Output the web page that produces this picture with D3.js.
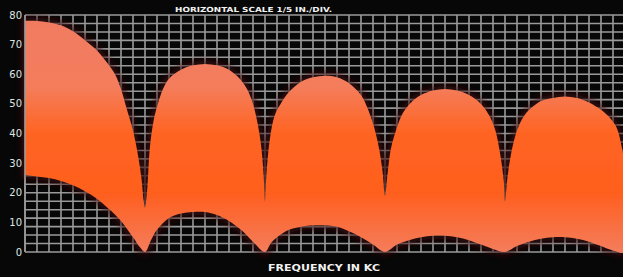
<!DOCTYPE html>
<html>
<head>
<meta charset="utf-8">
<script src="https://cdn.jsdelivr.net/npm/d3@7/dist/d3.min.js"></script>
<style>
    body { margin: 0; background: #070707; }
    svg { display: block; }
</style>
</head>
<body>
<svg id="chart"></svg>
<script>
// upper envelope of the response (x in divisions, level in db)
let upperDiv = [0, 1, 2, 3, 4, 5, 6, 7, 7.5, 8, 8.5, 9, 9.4, 9.7, 9.9, 10,
    10.2, 10.4, 10.7, 11, 11.5, 12, 13, 14, 15, 16, 17, 18, 18.5, 19, 19.4, 19.7, 19.9, 20,
    20.1, 20.4, 20.8, 21.3, 22, 23, 24, 25, 26, 27, 28, 28.6, 29.1, 29.5, 29.8, 30,
    30.2, 30.5, 31, 31.5, 32.3, 33, 34, 35, 36, 37, 38, 38.7, 39.2, 39.6, 39.9, 40,
    40.2, 40.5, 41, 41.6, 42.3, 43, 44, 45, 46, 47, 48, 48.8, 49.3, 49.7, 50];
let upperLevel = [78, 78, 77.5, 76.5, 74.5, 71.5, 68, 63, 60, 55, 48, 41, 33, 25, 17, 15,
    22, 35, 44, 49, 55, 58.5, 61.5, 63, 63.5, 63, 61.5, 58, 55, 50, 43, 35, 25, 17,
    25, 38, 46, 50, 54, 57.5, 59, 59.5, 59, 57, 53, 48, 42, 35, 27, 19,
    26, 35, 42, 47, 51, 53, 54.5, 55, 54.5, 53, 50, 46, 41, 33, 24, 17,
    25, 33, 41, 46, 49, 51, 52, 52.5, 52, 50.5, 48, 45, 42, 36, 28];

// lower envelope
let lowerDiv = [0, 1, 2, 3, 4, 5, 6, 7, 8, 9, 9.6, 10,
    10.5, 11, 12, 13, 14, 15, 16, 17, 18, 19, 20,
    20.5, 21, 22, 23, 24, 25, 26, 27, 28, 29, 30,
    31, 32, 33, 34, 35, 36, 37, 38, 39, 40,
    41, 42, 43, 44, 45, 46, 47, 48, 49, 50];
let lowerLevel = [26, 25.5, 25, 24, 22.5, 20.5, 18, 14.5, 10.5, 5, 1.5, 0,
    4, 7.5, 11.5, 13, 13.5, 13.5, 12.5, 10.5, 7.5, 3.5, 0,
    3, 5, 7.5, 8.5, 9, 9, 8.5, 7, 5, 2.5, 0,
    2.5, 4, 5, 5.5, 5.5, 5, 4, 2.5, 1, 0,
    2, 3.5, 4.5, 5, 5, 4.5, 3.5, 2, 0.5, 0];

let yTicks = [0, 10, 20, 30, 40, 50, 60, 70, 80];
let titleText = "HORIZONTAL SCALE 1/5 IN./DIV.";
let xLabelText = "FREQUENCY IN KC";

function getConfig(){
    let width = 623;
    let height = 277;
    let margin = { top: 15, bottom: 25, left: 25, right: -2 };
    let bodyHeight = height - margin.top - margin.bottom;
    let bodyWidth = width - margin.left - margin.right;
    let container = d3.select("#chart")
        .attr("width", width)
        .attr("height", height);
    return { width, height, margin, bodyHeight, bodyWidth, container };
}

function getScales(config){
    let { margin, bodyWidth, bodyHeight } = config;
    let xScale = d3.scaleLinear()
        .domain([0, 50])
        .range([margin.left, margin.left + bodyWidth]);
    let yScale = d3.scaleLinear()
        .domain([0, 80])
        .range([margin.top + bodyHeight, margin.top]);
    return { xScale, yScale };
}

function drawGrid(scales, config){
    let { container } = config;
    let { xScale, yScale } = scales;
    let g = container.append("g")
        .attr("stroke", "#b4b4b4")
        .attr("stroke-width", 1.6)
        .attr("opacity", 0.85);
    // 28 minor rows over the 80 db range
    let rows = d3.range(0, 29).map(i => i * 80 / 28);
    g.selectAll(".h").data(rows).enter().append("line")
        .attr("x1", xScale(0)).attr("x2", xScale(50))
        .attr("y1", d => yScale(d)).attr("y2", d => yScale(d));
    g.selectAll(".v").data(d3.range(0, 51)).enter().append("line")
        .attr("x1", d => xScale(d)).attr("x2", d => xScale(d))
        .attr("y1", yScale(80)).attr("y2", yScale(0));
}

function drawBand(scales, config){
    let { container } = config;
    let { xScale, yScale } = scales;
    let defs = container.append("defs");
    let grad = defs.append("linearGradient")
        .attr("id", "bandFill")
        .attr("gradientUnits", "userSpaceOnUse")
        .attr("x1", 0).attr("x2", 0)
        .attr("y1", yScale(80)).attr("y2", yScale(0));
    [[0, "#f07a62"], [0.3, "#f47d5c"], [0.5, "#ff6422"], [0.75, "#ff5f1e"], [1, "#f47c5c"]]
        .forEach(s => grad.append("stop").attr("offset", s[0]).attr("stop-color", s[1]));
    defs.append("filter").attr("id", "halo")
        .attr("x", "-5%").attr("y", "-5%").attr("width", "110%").attr("height", "110%")
        .append("feGaussianBlur").attr("stdDeviation", 3);
    defs.append("filter").attr("id", "soft")
        .append("feGaussianBlur").attr("stdDeviation", 0.7);

    let upper = upperDiv.map((d, i) => [d, upperLevel[i]]);
    let lower = lowerDiv.map((d, i) => [d, lowerLevel[i]]).reverse();
    let line = d3.line()
        .x(d => xScale(d[0]))
        .y(d => yScale(d[1]))
        .curve(d3.curveCatmullRom.alpha(0.5));
    let outline = line(upper.concat(lower)) + "Z";

    container.append("path")
        .attr("d", outline)
        .attr("fill", "none")
        .attr("stroke", "#3c0810")
        .attr("stroke-width", 7)
        .attr("opacity", 0.8)
        .attr("filter", "url(#halo)");
    container.append("path")
        .attr("d", outline)
        .attr("fill", "url(#bandFill)")
        .attr("filter", "url(#soft)");
}

function drawAxes(scales, config){
    let { container } = config;
    let { xScale, yScale } = scales;
    container.append("line")
        .attr("x1", xScale(0)).attr("x2", xScale(0))
        .attr("y1", yScale(80)).attr("y2", yScale(0))
        .attr("stroke", "#9a9a9a")
        .attr("stroke-width", 1.5);
    container.append("g")
        .selectAll("text")
        .data(yTicks)
        .enter().append("text")
        .attr("x", xScale(0) - 3)
        .attr("y", d => yScale(d))
        .attr("dy", "0.35em")
        .attr("text-anchor", "end")
        .text(d => d)
        .style("font-family", "DejaVu Sans")
        .style("font-size", "10px")
        .style("fill", "#dde6e4");
    container.append("text")
        .attr("x", 175)
        .attr("y", 12)
        .attr("textLength", 157)
        .attr("lengthAdjust", "spacingAndGlyphs")
        .text(titleText)
        .style("font-family", "DejaVu Sans")
        .style("font-weight", "bold")
        .style("font-size", "7px")
        .style("fill", "#f2f2f2");
    container.append("text")
        .attr("x", 268)
        .attr("y", 271)
        .attr("textLength", 112)
        .attr("lengthAdjust", "spacingAndGlyphs")
        .text(xLabelText)
        .style("font-family", "DejaVu Sans")
        .style("font-weight", "bold")
        .style("font-size", "9.5px")
        .style("fill", "#f2f2f2");
}

let config = getConfig();
let scales = getScales(config);
drawGrid(scales, config);
drawBand(scales, config);
drawAxes(scales, config);
</script>
</body>
</html>
